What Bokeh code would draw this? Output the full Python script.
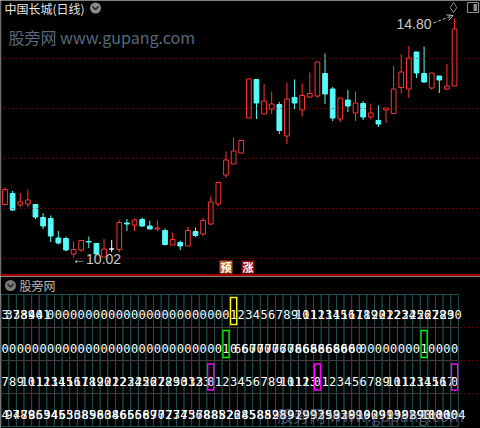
from bokeh.plotting import figure
from bokeh.layouts import column
from bokeh.models import Range1d, Span, Label, Arrow, OpenHead, ColumnDataSource
from bokeh.embed import file_html
from bokeh.resources import INLINE
from bokeh.core.properties import value

# ---- daily candles: 中国长城 ----
opens = [11.08, 11.30, 11.07, 11.09, 11.08, 10.82, 10.80, 10.41, 10.40, 10.09,
         10.17, 10.34, 10.30, 10.03, 10.19, 10.18, 10.71, 10.67, 10.78, 10.65,
         10.59, 10.56, 10.27, 10.32, 10.25, 10.54, 10.49, 10.69, 11.09, 11.67,
         11.89, 12.11, 12.81, 13.58, 12.89, 12.99, 13.08, 12.45, 13.22, 12.97,
         13.23, 13.25, 13.70, 13.39, 12.79, 13.17, 12.91, 13.10, 12.83, 12.76,
         12.97, 12.90, 13.42, 13.39, 14.13, 13.70, 13.41, 13.65, 13.39, 13.45]
closes = [11.38, 10.97, 11.13, 11.17, 10.83, 10.65, 10.45, 10.31, 10.17, 10.18,
          10.36, 10.33, 10.09, 10.19, 10.19, 10.72, 10.69, 10.77, 10.65, 10.59,
          10.61, 10.28, 10.38, 10.25, 10.56, 10.46, 10.76, 11.13, 11.52, 11.97,
          12.15, 12.36, 13.59, 13.11, 13.15, 13.09, 12.56, 13.19, 13.11, 13.26,
          13.30, 13.93, 13.29, 12.81, 13.21, 13.05, 13.11, 12.83, 12.91, 12.69,
          13.01, 13.39, 13.73, 14.01, 13.71, 13.53, 13.71, 13.57, 13.45, 14.59]
highs = [11.42, 11.35, 11.31, 11.38, 11.08, 10.91, 10.86, 10.55, 10.44, 10.34,
         10.36, 10.44, 10.30, 10.39, 10.37, 10.77, 10.79, 10.80, 10.82, 10.76,
         10.76, 10.60, 10.52, 10.36, 10.63, 10.62, 10.82, 11.24, 11.54, 12.14,
         12.42, 12.36, 13.59, 13.58, 13.49, 13.34, 13.13, 13.52, 13.58, 13.50,
         13.72, 13.93, 14.10, 13.43, 13.21, 13.37, 13.34, 13.15, 13.10, 13.06,
         13.01, 13.85, 14.09, 14.25, 14.13, 14.24, 13.71, 13.65, 13.89, 14.80]
lows = [11.06, 10.95, 11.03, 11.03, 10.79, 10.59, 10.33, 10.28, 10.15, 10.02,
        10.13, 10.21, 10.09, 10.03, 10.13, 10.12, 10.55, 10.55, 10.63, 10.59,
        10.55, 10.26, 10.27, 10.17, 10.25, 10.43, 10.45, 10.67, 11.05, 11.61,
        11.89, 12.11, 12.81, 12.79, 12.89, 12.89, 12.49, 12.29, 12.99, 12.84,
        13.21, 13.21, 13.09, 12.75, 12.73, 12.93, 12.75, 12.77, 12.78, 12.63,
        12.71, 12.90, 13.30, 13.21, 13.61, 13.51, 13.37, 13.31, 13.37, 13.45]

price_lines = [10, 11, 12, 13, 14]

# ---- indicator table rows (one value per bar) ----
row1 = [3, 37, 38, 39, 40, 41, 0, 0, 0, 0, 0, 0, 0, 0, 0, 0, 0, 0, 0, 0,
        0, 0, 0, 0, 0, 0, 0, 0, 0, 0, 1, 2, 3, 4, 5, 6, 7, 8, 9, 10,
        11, 12, 13, 14, 15, 16, 17, 18, 19, 20, 21, 22, 23, 24, 25, 26, 27, 28, 29, 30]
row2 = [0, 0, 0, 0, 0, 0, 0, 0, 0, 0, 0, 0, 0, 0, 0, 0, 0, 0, 0, 0,
        0, 0, 0, 0, 0, 0, 0, 0, 0, 1, 0, 66, 60, 70, 70, 70, 76, 70, 78, 66,
        68, 68, 66, 68, 60, 60, 60, 0, 0, 0, 0, 0, 0, 0, 0, 1, 0, 0, 0, 0]
row3 = [7, 8, 9, 10, 11, 12, 13, 14, 15, 16, 17, 18, 19, 20, 21, 22, 23, 24, 25, 26,
        27, 28, 29, 30, 31, 32, 33, 0, 1, 2, 3, 4, 5, 6, 7, 8, 9, 10, 11, 12,
        13, 0, 1, 2, 3, 4, 5, 6, 7, 8, 9, 10, 11, 12, 13, 14, 15, 16, 17, 0]
row4 = [4, 97, 48, 79, 86, 53, 94, 45, 65, 36, 38, 85, 98, 60, 38, 46, 65, 66, 56, 89,
        70, 72, 73, 74, 75, 36, 78, 88, 85, 82, 26, 28, 45, 58, 88, 52, 98, 59, 91, 29,
        99, 92, 39, 58, 93, 28, 99, 10, 90, 29, 91, 93, 98, 92, 89, 90, 100, 100, 100, 104]

RED = "#ff3434"
CYAN = "#54fcfc"
GRID = "#1d5151"
DOT_RED = "#c40000"

# pixel helpers for placing decorations
X_OFF, X_STEP = 4.5, 7.62


def xpx(px):
    return (px - X_OFF) / X_STEP


def ypx(py):
    return 14 - (py - 58) / 50.0


W = 480
TOP_H, BOT_H = 276, 152
x_range = Range1d(xpx(0), xpx(W))

top = figure(width=W, height=TOP_H, x_range=x_range,
             y_range=Range1d(ypx(TOP_H), ypx(0)),
             output_backend="svg", toolbar_location=None,
             x_axis_location=None, y_axis_location=None,
             min_border=0, background_fill_color="black",
             border_fill_color="black", outline_line_color=None)
top.grid.visible = False

for v in price_lines:
    top.add_layout(Span(location=v, dimension="width", line_color=DOT_RED,
                        line_dash="1 3", line_width=1))

# candle table
n = len(opens)
idx = list(range(n))
colors, fills, body_top, body_bot = [], [], [], []
for o, c in zip(opens, closes):
    if c > o:
        colors.append(RED); fills.append("black")
    elif c < o:
        colors.append(CYAN); fills.append(CYAN)
    else:
        colors.append("white"); fills.append("white")
    body_top.append(max(o, c))
    body_bot.append(min(o, c))

src = ColumnDataSource(dict(x=idx, left=[i - 0.31 for i in idx], right=[i + 0.31 for i in idx],
                            high=highs, low=lows, btop=body_top, bbot=body_bot,
                            color=colors, fill=fills))
top.segment(x0="x", y0="high", x1="x", y1="btop", line_color="color", line_width=1, source=src)
top.segment(x0="x", y0="bbot", x1="x", y1="low", line_color="color", line_width=1, source=src)
top.quad(left="left", right="right", top="btop", bottom="bbot",
         fill_color="fill", line_color="color", line_width=1, source=src)

# left frame edge
top.add_layout(Span(location=xpx(0.5), dimension="height", line_color="#3a3a3a", line_width=1))

# title and icons
top.add_layout(Label(x=xpx(4), y=ypx(7.5), text="中国长城(日线)", text_font="Noto Sans CJK SC",
                     text_font_size="12px", text_color="#e8e8e8", text_baseline="middle"))
top.scatter([xpx(95)], [ypx(7.5)], size=11, marker="circle", fill_color="#8c8c8c", line_color=None)
top.line([xpx(92), xpx(95), xpx(98)], [ypx(6), ypx(9), ypx(6)], line_color="#222222", line_width=1.5)
top.add_layout(Label(x=xpx(8), y=ypx(36.5), text="股旁网 www.gupang.com", text_font="Noto Sans CJK SC",
                     text_font_size="16px", text_color="#58697d", text_baseline="middle"))
top.scatter([xpx(453)], [ypx(7)], size=10, marker="diamond", fill_color=None,
            line_color="#8a8a8a", line_width=1)
top.quad(left=[xpx(467)], right=[xpx(478)], top=[ypx(2)], bottom=[ypx(12)],
         fill_color=None, line_color="#8a8a8a", line_width=1.2)
top.quad(left=[xpx(473)], right=[xpx(476.5)], top=[ypx(3.5)], bottom=[ypx(10.5)],
         fill_color="#8a8a8a", line_color=None)

# extreme price markers
hi_i = highs.index(max(highs))
lo_i = lows.index(min(lows))
top.add_layout(Label(x=xpx(431), y=ypx(23), text=f"{max(highs):.2f}", text_font="Liberation Sans",
                     text_font_size="14px", text_color="#c8c8c8", text_align="right",
                     text_baseline="middle"))
top.add_layout(Arrow(end=OpenHead(size=6, line_color="#c8c8c8", line_width=1),
                     x_start=xpx(433), y_start=ypx(22.5), x_end=hi_i - 0.2, y_end=max(highs) + 0.06,
                     line_color="#c8c8c8", line_width=1, line_dash="3 2"))
top.add_layout(Label(x=lo_i - 0.2, y=min(lows) - 0.03, text=f"←{min(lows):.2f}",
                     text_font="Liberation Sans", text_font_size="14px", text_color="#c8c8c8",
                     text_baseline="middle"))

# 预 / 涨 tags
top.quad(left=[xpx(219)], right=[xpx(232)], top=[ypx(260)], bottom=[ypx(273)],
         fill_color="#c4561e", line_color=None)
top.quad(left=[xpx(241)], right=[xpx(254)], top=[ypx(260)], bottom=[ypx(273)],
         fill_color="#8e0c0c", line_color=None)
top.text(x=[xpx(225.5), xpx(247.5)], y=[ypx(266.5), ypx(266.5)], text=["预", "涨"],
         text_font=value("Noto Sans CJK SC"), text_font_size="11px", text_color="white",
         text_align="center", text_baseline="middle", text_font_style="bold")

# panel separator
top.add_layout(Span(location=ypx(274.5), dimension="width", line_color="#e00000", line_width=1.5))

# ---- bottom table panel ----
bot = figure(width=W, height=BOT_H, x_range=x_range, y_range=Range1d(TOP_H + BOT_H, TOP_H),
             output_backend="svg", toolbar_location=None,
             x_axis_location=None, y_axis_location=None,
             min_border=0, background_fill_color="black",
             border_fill_color="black", outline_line_color=None)
bot.grid.visible = False

for yy in [327, 360, 393]:
    bot.add_layout(Span(location=yy, dimension="width", line_color=DOT_RED,
                        line_dash="1 3", line_width=1))

bot.scatter([xpx(10)], [285], size=11, marker="circle", fill_color="#7a7a7a", line_color=None)
bot.line([xpx(7), xpx(10), xpx(13)], [283.5, 286.5, 283.5], line_color="#222222", line_width=1.5)
bot.add_layout(Label(x=xpx(19), y=285, text="股旁网", text_font="Noto Sans CJK SC",
                     text_font_size="12px", text_color="#b8b8b8", text_baseline="middle"))

rows = [row1, row2, row3, row4]
row_top = [294, 327, 360, 393]
row_h = 33
text_y = [314, 347.5, 380.5, 413.5]

cx, cy = [], []
for r in range(4):
    for i in idx:
        cx.append(i)
        cy.append(row_top[r] + row_h / 2)
bot.rect(x=cx, y=cy, width=1, height=row_h, fill_color="black", line_color=GRID, line_width=1)

for r, vals in enumerate(rows):
    bot.text(x=idx, y=[text_y[r]] * n, text=[str(v) for v in vals],
             text_font=value("DejaVu Sans Mono"), text_font_size="12px", text_color="white",
             text_align="center", text_baseline="middle")

# signal boxes
ylw = [i for i, v in enumerate(row1) if v == 1]
grn = [i for i, v in enumerate(row2) if v == 1]
mag = [i for i, v in enumerate(row3) if v == 0]
bot.rect(x=ylw, y=[310.5] * len(ylw), width=0.8, height=27, fill_color=None,
         line_color="#ffff00", line_width=1.3)
bot.rect(x=grn, y=[343.5] * len(grn), width=0.8, height=27, fill_color=None,
         line_color="#00ff00", line_width=1.3)
bot.rect(x=mag, y=[376.5] * len(mag), width=0.8, height=26, fill_color=None,
         line_color="#ff00ff", line_width=1.3)

bot.add_layout(Label(x=xpx(277), y=414, text="股旁网 www.gupang.com", text_font="Noto Sans CJK SC",
                     text_font_size="16px", text_color="#8a8ab8", text_alpha=0.55,
                     text_baseline="middle"))

layout = column(top, bot, spacing=0)
open("out.html", "w").write(file_html(layout, INLINE))
